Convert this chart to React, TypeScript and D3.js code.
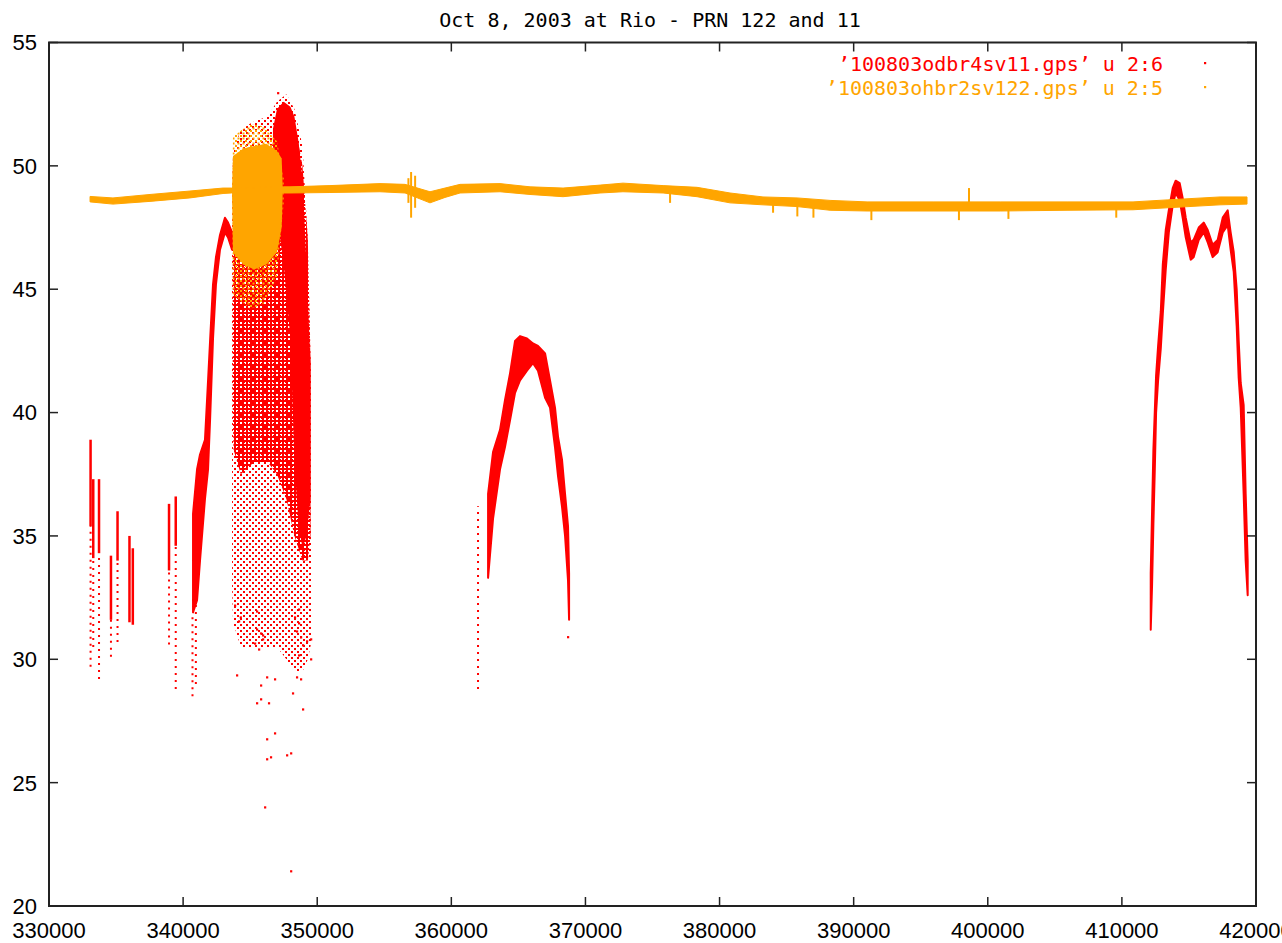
import * as d3 from "d3";

const W = 1282;
const H = 943;

const title = "Oct 8, 2003 at Rio - PRN 122 and 11";
const legendRed = "’100803odbr4sv11.gps’ u 2:6";
const legendOrange = "’100803ohbr2sv122.gps’ u 2:5";

const xTicks = [330000, 340000, 350000, 360000, 370000, 380000, 390000, 400000, 410000, 420000];
const yTicks = [20, 25, 30, 35, 40, 45, 50, 55];

// PRN 122 (orange) - main band
const prn122Time = [333060, 334770, 337530, 340510, 342980, 343600, 347500, 347970, 350950, 354680, 356550, 358410, 359530, 360650, 363630, 365870, 368330, 371090, 372800, 375790, 378320, 380780, 383240, 385780, 388240, 391000, 395920, 400920, 405910, 410830, 413370, 417320, 419330];
const prn122Lo = [48.54, 48.45, 48.56, 48.7, 48.88, 48.9, 48.9, 48.9, 48.92, 48.95, 48.9, 48.5, 48.72, 48.9, 48.95, 48.84, 48.75, 48.9, 48.95, 48.9, 48.75, 48.5, 48.42, 48.35, 48.2, 48.17, 48.17, 48.17, 48.2, 48.22, 48.3, 48.42, 48.45];
const prn122Hi = [48.76, 48.7, 48.84, 48.98, 49.1, 49.1, 49.15, 49.15, 49.2, 49.28, 49.25, 48.95, 49.1, 49.25, 49.28, 49.15, 49.1, 49.22, 49.3, 49.2, 49.13, 48.9, 48.74, 48.7, 48.6, 48.54, 48.54, 48.54, 48.54, 48.54, 48.62, 48.74, 48.74];
// PRN 122 spikes: [time, lo, hi]
const prn122Spikes = [
  [356800, 48.5, 49.5], [357000, 47.9, 49.75], [357300, 48.3, 49.6], [376310, 48.5, 49.0],
  [383990, 48.1, 48.6], [385800, 47.95, 48.5], [387000, 47.9, 48.4], [391320, 47.8, 48.3],
  [397850, 47.8, 48.3], [398600, 48.2, 49.1], [401540, 47.85, 48.3], [409580, 47.9, 48.3],
];
// PRN 122 burst near 345000
const burstTime = [343650, 343720, 344500, 345300, 346200, 347000, 347350, 347420];
const burstLo = [48.8, 46.5, 46.0, 45.8, 46.0, 46.5, 47.5, 48.8];
const burstHi = [49.1, 50.4, 50.7, 50.8, 50.9, 50.6, 50.3, 49.2];
const burstSparseTime = [343650, 343720, 345000, 346000, 347000, 347500];
const burstSparseLo = [47.0, 44.8, 44.2, 44.4, 45.5, 48.5];
const burstSparseHi = [49.5, 51.2, 51.7, 51.6, 51.0, 49.5];

// PRN 11 (red) - early streaks [time, lo, hi]
const prn11Solid = [
  [333100, 35.4, 38.9], [333300, 34.1, 37.3], [333730, 34.3, 37.3], [334620, 31.6, 34.2],
  [335110, 34.0, 36.0], [336000, 31.5, 35.0], [336250, 31.4, 34.5], [338950, 33.6, 36.3],
  [339450, 34.6, 36.6],
];
const prn11Dotted = [
  [333100, 29.7, 35.4], [333300, 30.5, 34.1], [333730, 29.2, 34.3], [334620, 30.1, 31.6],
  [335110, 30.7, 34.0], [338950, 30.6, 33.6], [339450, 28.8, 34.6], [340700, 28.5, 31.9],
  [340950, 29.0, 32.4], [361990, 28.8, 36.2],
];
// first rise
const arc1Time = [340740, 341040, 341260, 341630, 341860, 342010, 342230, 342450, 342750, 343120, 343350, 343650];
const arc1Lo = [31.9, 32.4, 34.0, 36.5, 37.7, 39.7, 43.0, 45.2, 46.6, 47.3, 47.1, 46.6];
const arc1Hi = [35.9, 37.7, 38.3, 38.9, 41.3, 42.9, 45.2, 46.3, 47.2, 47.9, 47.7, 47.3];
// second pass
const arc2Time = [362740, 363110, 363630, 364000, 364380, 364750, 365120, 365640, 366090, 366460, 366990, 367360, 367730, 367960, 368250, 368480, 368700, 368780];
const arc2Lo = [33.3, 35.7, 37.7, 38.6, 39.7, 40.8, 41.3, 41.7, 42.0, 41.7, 40.6, 40.2, 38.6, 37.4, 36.2, 35.0, 33.2, 31.6];
const arc2Hi = [36.7, 38.4, 39.3, 40.5, 41.6, 42.9, 43.1, 43.0, 42.8, 42.7, 42.4, 41.3, 40.2, 39.0, 38.1, 36.7, 35.4, 33.5];
// third pass
const arc3Time = [412150, 412250, 412350, 412450, 412550, 412700, 412900, 413050, 413270, 413500, 413790, 414010, 414310, 414530, 414760, 415130, 415350, 415730, 416100, 416400, 416770, 417140, 417520, 417890, 418110, 418340, 418560, 418710, 418860, 419080, 419230, 419380];
const arc3Lo = [31.2, 33.0, 35.5, 37.6, 40.0, 41.3, 42.6, 44.0, 45.8, 47.3, 48.4, 48.9, 48.6, 47.9, 47.1, 46.2, 46.3, 47.0, 47.3, 46.9, 46.3, 46.5, 47.3, 47.6, 46.6, 45.7, 43.5, 41.4, 40.2, 36.7, 34.0, 32.6];
const arc3Hi = [33.5, 36.0, 38.5, 40.0, 41.5, 42.7, 44.1, 46.0, 47.4, 48.2, 49.1, 49.4, 49.3, 48.7, 47.9, 46.9, 47.0, 47.5, 47.7, 47.4, 46.8, 47.0, 47.9, 48.2, 47.3, 46.5, 45.0, 42.9, 41.2, 40.3, 36.7, 34.0];
// scatter cloud near 346000
const cloudOuterTime = [343650, 343720, 344300, 345300, 346300, 347000, 347700, 348300, 348900, 349300, 349600];
const cloudOuterLo = [33.0, 31.5, 30.5, 30.5, 30.5, 30.5, 30.0, 29.5, 29.5, 30.0, 30.8];
const cloudOuterHi = [49.0, 50.5, 51.5, 51.8, 52.0, 52.6, 52.9, 52.3, 50.8, 47.0, 40.0];
const cloudMidTime = [343700, 343760, 344300, 345300, 346300, 347000, 347700, 348300, 348900, 349300, 349500];
const cloudMidLo = [40.0, 38.5, 37.5, 38.0, 38.0, 37.5, 36.5, 35.0, 34.0, 34.0, 35.0];
const cloudMidHi = [46.0, 47.5, 49.0, 49.5, 50.2, 51.5, 52.2, 51.8, 50.0, 47.0, 42.0];
const cloudCoreTime = [346700, 347000, 347500, 348000, 348300, 348600, 348900, 349200, 349500];
const cloudCoreLo = [49.0, 48.0, 46.0, 43.0, 38.0, 35.5, 34.5, 35.0, 36.5];
const cloudCoreHi = [51.5, 52.3, 52.6, 52.4, 52.0, 51.0, 49.5, 46.0, 42.0];
// isolated points [time, value]
const prn11Points = [
  [343870, 32.18], [345510, 31.94], [344295, 31.7], [344170, 31.54], [345510, 31.21],
  [345810, 31.05], [345960, 30.97], [345960, 30.81], [345360, 30.64], [345660, 30.4],
  [344020, 29.35], [346260, 29.27], [346850, 29.19], [345810, 28.94], [345810, 28.38],
  [345510, 28.22], [346400, 28.22], [346850, 27.0], [346260, 26.76], [346550, 26.03],
  [346260, 25.95], [347750, 26.11], [348050, 26.19], [346110, 24.0], [348050, 21.41],
  [348640, 32.02], [348340, 31.7], [348640, 31.46], [348490, 31.13], [348790, 30.89],
  [349240, 30.73], [348940, 30.57], [349540, 30.81], [348640, 30.16], [349540, 30.0],
  [348490, 29.27], [348790, 29.19], [348190, 28.62], [348940, 27.97], [347080, 52.95],
  [368700, 30.9],
];

const RED = "#ff0000";
const ORANGE = "#ffa500";

export default function App() {
  const x = d3.scaleLinear().domain([330000, 420000]).range([49, 1256]);
  const y = d3.scaleLinear().domain([20, 55]).range([906, 42.5]);

  const band = (t: number[], lo: number[], hi: number[]) =>
    d3.area<number>()
      .x((d) => x(d))
      .y0((_, i) => y(lo[i]))
      .y1((_, i) => y(hi[i]))(t) || "";

  const [x0, x1] = x.range();
  const [y0, y1] = y.range();
  const tickLen = 9;
  const monoFont = "'DejaVu Sans Mono', monospace";
  const labelFont = "'Liberation Sans', Arial, sans-serif";

  return (
    <svg width={W} height={H} style={{ position: "absolute", left: 0, top: 0, background: "#fff" }}>
      <defs>
        <pattern id="redSparse" width="6" height="6" patternUnits="userSpaceOnUse">
          <rect x="0" y="0" width="2" height="2" fill={RED} />
          <rect x="3" y="3" width="2" height="2" fill={RED} />
        </pattern>
        <pattern id="redMid" width="4" height="4" patternUnits="userSpaceOnUse">
          <rect x="0" y="0" width="2" height="2" fill={RED} />
          <rect x="2" y="2" width="2" height="2" fill={RED} />
          <rect x="2" y="0" width="2" height="2" fill={RED} />
        </pattern>
        <pattern id="orangeSparse" width="5" height="5" patternUnits="userSpaceOnUse">
          <rect x="0" y="0" width="2" height="2" fill={ORANGE} />
          <rect x="2.5" y="2.5" width="2" height="2" fill={ORANGE} />
        </pattern>
      </defs>

      <rect x={0} y={0} width={W} height={H} fill="#fff" />

      {/* PRN 11 */}
      <path d={band(cloudOuterTime, cloudOuterLo, cloudOuterHi)} fill="url(#redSparse)" />
      <path d={band(cloudMidTime, cloudMidLo, cloudMidHi)} fill="url(#redMid)" />
      <path d={band(cloudCoreTime, cloudCoreLo, cloudCoreHi)} fill={RED} />
      {prn11Dotted.map(([t, lo, hi], i) => (
        <line key={"d" + i} x1={x(t)} x2={x(t)} y1={y(lo)} y2={y(hi)} stroke={RED} strokeWidth={2} strokeDasharray="2 5" />
      ))}
      {prn11Solid.map(([t, lo, hi], i) => (
        <line key={"s" + i} x1={x(t)} x2={x(t)} y1={y(lo)} y2={y(hi)} stroke={RED} strokeWidth={2.5} />
      ))}
      {[[arc1Time, arc1Lo, arc1Hi], [arc2Time, arc2Lo, arc2Hi], [arc3Time, arc3Lo, arc3Hi]].map(([t, lo, hi], i) => (
        <path key={"a" + i} d={band(t, lo, hi)} fill={RED} stroke={RED} strokeWidth={2} strokeLinejoin="round" />
      ))}
      {prn11Points.map(([t, v], i) => (
        <rect key={"p" + i} x={x(t) - 1} y={y(v) - 1} width={2.2} height={2.2} fill={RED} />
      ))}

      {/* PRN 122 */}
      <path d={band(burstSparseTime, burstSparseLo, burstSparseHi)} fill="url(#orangeSparse)" />
      <path d={band(burstTime, burstLo, burstHi)} fill={ORANGE} />
      <path d={band(prn122Time, prn122Lo, prn122Hi)} fill={ORANGE} stroke={ORANGE} strokeWidth={1} />
      {prn122Spikes.map(([t, lo, hi], i) => (
        <line key={"o" + i} x1={x(t)} x2={x(t)} y1={y(lo)} y2={y(hi)} stroke={ORANGE} strokeWidth={2} />
      ))}

      {/* frame and ticks */}
      <rect x={x0} y={y1} width={x1 - x0} height={y0 - y1} fill="none" stroke="#222" strokeWidth={2} />
      {xTicks.map((t) => (
        <g key={"xt" + t}>
          <line x1={x(t)} x2={x(t)} y1={y0} y2={y0 - tickLen} stroke="#222" strokeWidth={1.5} />
          <line x1={x(t)} x2={x(t)} y1={y1} y2={y1 + tickLen} stroke="#222" strokeWidth={1.5} />
          <text x={x(t)} y={938} textAnchor="middle" fontFamily={labelFont} fontSize={22} fill="#000">{t}</text>
        </g>
      ))}
      {yTicks.map((v) => (
        <g key={"yt" + v}>
          <line x1={x0} x2={x0 + tickLen} y1={y(v)} y2={y(v)} stroke="#222" strokeWidth={1.5} />
          <line x1={x1} x2={x1 - tickLen} y1={y(v)} y2={y(v)} stroke="#222" strokeWidth={1.5} />
          <text x={37} y={y(v)} dy="0.36em" textAnchor="end" fontFamily={labelFont} fontSize={22} fill="#000">{v}</text>
        </g>
      ))}

      <text x={650} y={27} textAnchor="middle" fontFamily={monoFont} fontSize={20} fill="#000">{title}</text>

      <text x={1163} y={71} textAnchor="end" fontFamily={monoFont} fontSize={20} fill={RED}>{legendRed}</text>
      <rect x={1204} y={62} width={2.2} height={2.2} fill={RED} />
      <text x={1163} y={95} textAnchor="end" fontFamily={monoFont} fontSize={20} fill={ORANGE}>{legendOrange}</text>
      <rect x={1204} y={86} width={2.2} height={2.2} fill={ORANGE} />
    </svg>
  );
}
